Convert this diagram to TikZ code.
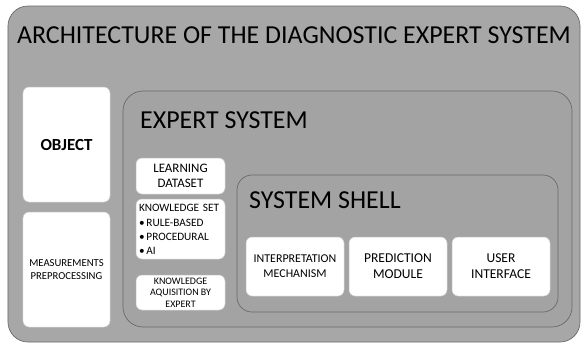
\documentclass[tikz,border=0pt]{standalone}
\usepackage{fontspec}
\setmainfont{Carlito}
\usepackage{tikz}

\definecolor{panelgray}{HTML}{A7A7A7}
\definecolor{innergray}{HTML}{A3A3A3}
\definecolor{edgegray}{HTML}{6A6A6A}
\definecolor{whiteedge}{HTML}{C8C8C8}

\tikzset{
  panel/.style={draw=edgegray, line width=0.7pt, fill=innergray, rounded corners=#1},
  panel/.default=18bp,
  whitebox/.style={draw=whiteedge, line width=0.5pt, fill=white, rounded corners=6bp,
    align=center, inner sep=0pt},
  heading/.style={anchor=west, inner sep=0pt, font=\fontsize{26}{28}\selectfont},
}

\begin{document}
\begin{tikzpicture}[x=1bp, y=-1bp]
\useasboundingbox (0,0) rectangle (582,344);
\node[panel=20bp, fill=panelgray, minimum width=572bp, minimum height=336bp] (arch) at (294,174) {};
\node[inner sep=0pt, font=\fontsize{26}{28}\selectfont] (archtitle) at (294,35) {ARCHITECTURE OF THE DIAGNOSTIC EXPERT SYSTEM};

\node[whitebox, minimum width=87bp, minimum height=115bp, font=\bfseries\fontsize{17}{19}\selectfont] (object) at (66.5,144.5) {OBJECT};
\node[whitebox, minimum width=87bp, minimum height=115bp, font=\fontsize{10.7}{13}\selectfont] (measure) at (66.5,269.5) {MEASUREMENTS\\PREPROCESSING};

% expert system
\node[panel=20bp, minimum width=449bp, minimum height=236bp] (expert) at (347.5,209) {};
\node[heading] (experttitle) at (140,120) {EXPERT SYSTEM};
\node[whitebox, minimum width=89bp, minimum height=36bp, font=\fontsize{13}{15.5}\selectfont] (dataset) at (180.5,176) {LEARNING\\DATASET};
\node[whitebox, minimum width=89bp, minimum height=60bp, text width=83bp, align=left, font=\fontsize{11.3}{13.7}\selectfont] (knowset) at (180.5,229)
  {KNOWLEDGE~SET\\[2bp]\textbullet\,RULE-BASED\\\textbullet\,PROCEDURAL\\\textbullet\,AI};
\node[whitebox, minimum width=89bp, minimum height=35bp, font=\fontsize{10}{11.5}\selectfont] (acquire) at (180.5,292.5) {KNOWLEDGE\\AQUISITION BY\\EXPERT};

% system shell
\node[panel=15bp, minimum width=321bp, minimum height=137bp] (shell) at (397.5,243.5) {};
\node[heading] (shelltitle) at (249,200) {SYSTEM SHELL};
\node[whitebox, minimum width=98bp, minimum height=59bp, font=\fontsize{12}{15}\selectfont] (interp) at (295,266.5) {INTERPRETATION\\MECHANISM};
\node[whitebox, minimum width=98bp, minimum height=59bp, font=\fontsize{13.6}{16}\selectfont] (predict) at (398,266.5) {PREDICTION\\MODULE};
\node[whitebox, minimum width=98bp, minimum height=59bp, font=\fontsize{13.6}{16}\selectfont] (userif) at (501,266.5) {USER\\INTERFACE};
\end{tikzpicture}
\end{document}
